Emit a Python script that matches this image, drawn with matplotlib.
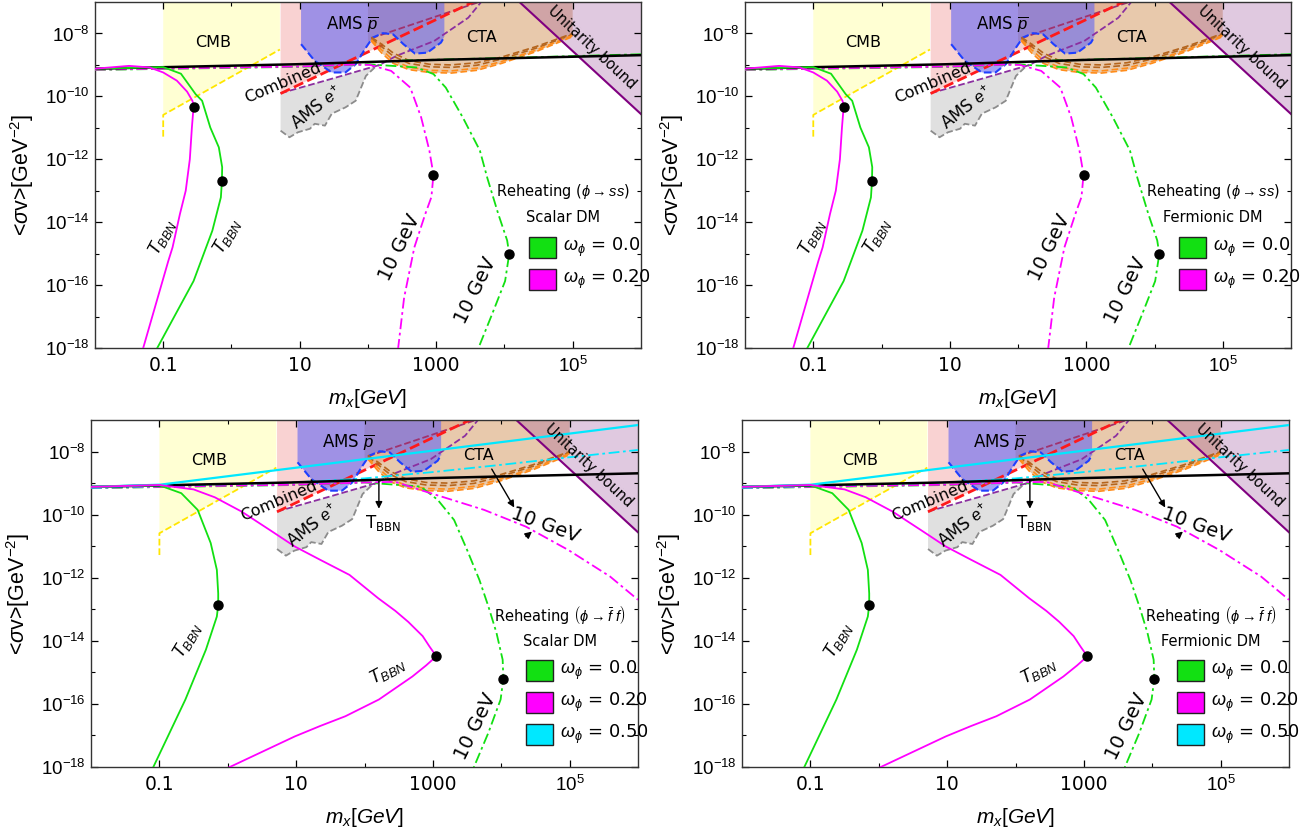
import matplotlib.pyplot as plt
import numpy as np
from matplotlib.patches import Polygon, Rectangle
from matplotlib.ticker import FixedFormatter, FixedLocator, NullFormatter

plt.rcParams["font.family"] = ["DejaVu Sans"]
plt.rcParams["mathtext.fontset"] = "custom"
plt.rcParams["mathtext.rm"] = "Liberation Sans"
plt.rcParams["mathtext.it"] = "Liberation Sans:italic"
plt.rcParams["mathtext.bf"] = "Liberation Sans:bold"

# axis ranges and ticks
XLIM = (1e-2, 1e6)
YLIM = (1e-18, 1e-7)
X_MAJOR = [0.1, 10, 1000, 1e5]
X_LABELS = ["0.1", "10", "1000", "$10^5$"]
X_MINOR = [1, 100, 1e4]
Y_MAJOR = [1e-18, 1e-16, 1e-14, 1e-12, 1e-10, 1e-8]
Y_LABELS = ["$10^{-18}$", "$10^{-16}$", "$10^{-14}$", "$10^{-12}$", "$10^{-10}$", "$10^{-8}$"]
Y_MINOR = [1e-17, 1e-15, 1e-13, 1e-11, 1e-9]

# all curves stored as log10(m_x / GeV), log10(<sigma v> / GeV^-2)
RELIC_LOGM = [-2.0, 0.93, 3.0, 6.0]
RELIC_LOGSV = [-9.12, -8.98, -8.84, -8.69]

UNITARITY_LOGM = [4.22, 6.0]
UNITARITY_LOGSV = [-7.0, -10.56]

CMB_LOGM = [-1.0, -1.0, 0.71]
CMB_LOGSV = [-11.28, -10.59, -8.51]

COMBINED_LOGM = [0.72, 3.57]
COMBINED_LOGSV = [-9.91, -6.97]

AMS_E_UPPER_LOGM = [0.72, 1.47, 2.17, 2.42, 2.97, 3.47, 3.67]
AMS_E_UPPER_LOGSV = [-9.90, -9.44, -9.00, -8.71, -8.24, -7.50, -6.97]
AMS_E_LOWER_LOGM = [0.72, 0.85, 0.975, 1.15, 1.22, 1.37, 1.47, 1.67, 1.82, 1.90, 1.97, 2.10, 2.17]
AMS_E_LOWER_LOGSV = [-11.09, -11.30, -11.14, -11.03, -10.87, -10.93, -10.55, -10.35, -10.14,
                     -9.72, -9.35, -9.08, -9.00]
MAROON_LOGM = [2.05, 3.67]
MAROON_LOGSV = [-8.15, -6.97]

AMS_P_LOGM = [1.02, 1.22, 1.47, 1.67, 1.82, 1.97, 2.07, 2.22, 2.37, 2.52, 2.69, 2.87, 3.07, 3.12]
AMS_P_LOGSV = [-8.34, -8.87, -9.24, -9.24, -8.98, -8.45, -8.13, -7.99, -8.03, -8.34, -8.64,
               -8.61, -8.29, -8.10]

CTA_LOGM = [2.05, 2.2, 2.37, 2.6, 2.9, 3.22, 3.6, 3.96, 4.46, 5.0]
CTA_ORANGE_LOW = [-8.24, -8.62, -8.95, -9.15, -9.24, -9.26, -9.17, -8.95, -8.58, -8.10]
CTA_ORANGE_HIGH = [-8.20, -8.52, -8.85, -9.07, -9.17, -9.19, -9.10, -8.89, -8.53, -8.06]
CTA_BROWN_LOW = [-8.16, -8.42, -8.72, -8.95, -9.06, -9.08, -9.01, -8.81, -8.47, -8.03]
CTA_BROWN_HIGH = [-8.12, -8.34, -8.62, -8.86, -8.98, -9.00, -8.93, -8.75, -8.42, -8.00]

# phi -> s s reheating (top row)
SS_GREEN_LOGM = [-2.0, -1.0, -0.74, -0.525, -0.43, -0.31, -0.185, -0.136, -0.14, -0.155, -0.28,
                 -0.555, -1.10]
SS_GREEN_LOGSV = [-9.12, -9.07, -9.28, -9.93, -10.14, -10.99, -11.62, -12.25, -12.70, -13.21,
                  -14.27, -15.87, -18.05]
SS_GREEN_DOT = (-0.14, -12.70)
SS_MAGENTA_LOGM = [-2.0, -1.5, -1.2, -1.0, -0.8, -0.65, -0.57, -0.555, -0.58, -0.61, -0.67,
                   -0.755, -0.863, -0.925, -1.30]
SS_MAGENTA_LOGSV = [-9.12, -9.03, -9.08, -9.24, -9.50, -9.85, -10.15, -10.33, -11.0, -12.0,
                    -13.0, -13.74, -14.80, -15.23, -18.05]
SS_MAGENTA_DOT = (-0.555, -10.33)
SS_GREEN10_LOGM = [-2.0, 1.0, 2.0, 2.71, 2.96, 3.14, 3.39, 3.64, 3.75, 3.91, 4.04, 4.07, 4.01,
                   3.82, 3.61]
SS_GREEN10_LOGSV = [-9.16, -9.06, -8.98, -9.08, -9.29, -9.72, -10.67, -11.72, -12.60, -13.74,
                    -14.58, -15.01, -15.87, -16.92, -18.05]
SS_GREEN10_DOT = (4.07, -15.01)
SS_GREEN10_UPPER_LOGM = [2.5, 4.0, 6.0]
SS_GREEN10_UPPER_LOGSV = [-8.86, -8.78, -8.66]
SS_MAGENTA10_LOGM = [-2.0, 1.0, 1.8, 2.03, 2.34, 2.62, 2.78, 2.90, 2.96, 2.93, 2.84, 2.68,
                     2.53, 2.44]
SS_MAGENTA10_LOGSV = [-9.15, -9.05, -8.99, -9.00, -9.19, -9.72, -10.67, -11.72, -12.49, -13.2,
                      -13.74, -14.80, -16.40, -18.05]
SS_MAGENTA10_DOT = (2.96, -12.49)

# phi -> f fbar reheating (bottom row)
FF_GREEN_LOGM = [-2.0, -1.0, -0.68, -0.44, -0.25, -0.16, -0.14, -0.14, -0.16, -0.32, -0.62, -1.10]
FF_GREEN_LOGSV = [-9.12, -9.07, -9.32, -9.85, -10.90, -11.75, -12.50, -12.86, -13.23, -14.28,
                  -15.86, -18.05]
FF_GREEN_DOT = (-0.14, -12.86)
FF_MAGENTA_LOGM = [-2.0, -1.0, -0.5, -0.19, 0.2, 0.61, 0.98, 1.35, 1.78, 2.20, 2.45, 2.64,
                   2.85, 2.95, 3.05, 2.90, 2.70, 2.21, 1.72, 1.35, 0.98, -0.02]
FF_MAGENTA_LOGSV = [-9.12, -9.06, -9.20, -9.45, -9.90, -10.48, -11.01, -11.43, -11.91, -12.65,
                    -13.05, -13.40, -13.85, -14.18, -14.49, -14.78, -15.13, -15.86, -16.39,
                    -16.70, -17.03, -18.05]
FF_MAGENTA_DOT = (3.05, -14.49)
FF_GREEN10_LOGM = [-2.0, 1.0, 2.0, 2.82, 3.07, 3.31, 3.50, 3.68, 3.81, 3.93, 4.02, 4.03, 3.99,
                   3.81, 3.59]
FF_GREEN10_LOGSV = [-9.16, -9.06, -8.98, -9.11, -9.53, -10.17, -11.12, -12.07, -12.90, -13.75,
                    -14.60, -15.20, -15.86, -16.92, -18.05]
FF_GREEN10_DOT = (4.03, -15.20)
FF_MAGENTA10_LOGM = [-2.0, 1.0, 2.0, 2.45, 2.82, 3.13, 3.75, 4.36, 4.98, 5.59, 6.0]
FF_MAGENTA10_LOGSV = [-9.15, -9.05, -8.98, -8.96, -9.22, -9.43, -9.85, -10.38, -11.12, -11.96,
                      -12.70]
FF_CYAN_LOGM = [-2.0, -0.99, 6.0]
FF_CYAN_LOGSV = [-9.12, -9.05, -7.16]
FF_CYAN10_LOGM = [-2.0, 0.98, 2.0, 3.0, 4.0, 5.0, 6.0]
FF_CYAN10_LOGSV = [-9.15, -8.98, -8.85, -8.65, -8.42, -8.18, -7.95]

GREEN = "#12E012"
MAGENTA = "#FF00FF"
CYAN = "#00E8FF"
DASHDOT = (0, (6, 2, 1.5, 2))

PANELS = [
    # left, bottom, width, height, row, dm label
    (0.0726, 0.5827, 0.4174, 0.4149, "ss", "Scalar DM"),
    (0.5696, 0.5827, 0.4174, 0.4149, "ss", "Fermionic DM"),
    (0.0696, 0.0803, 0.4182, 0.4161, "ff", "Scalar DM"),
    (0.5673, 0.0803, 0.4182, 0.4161, "ff", "Fermionic DM"),
]


def lg(values):
    return 10.0 ** np.asarray(values, dtype=float)


def pts(logm, logsv):
    return list(zip(lg(logm), lg(logsv)))


def fill(ax, verts, color, alpha):
    ax.add_patch(Polygon(verts, closed=True, facecolor=color, alpha=alpha,
                         edgecolor="none", zorder=1))


def setup_axes(ax):
    ax.set_xscale("log")
    ax.set_yscale("log")
    ax.set_xlim(*XLIM)
    ax.set_ylim(*YLIM)
    ax.xaxis.set_major_locator(FixedLocator(X_MAJOR))
    ax.xaxis.set_major_formatter(FixedFormatter(X_LABELS))
    ax.xaxis.set_minor_locator(FixedLocator(X_MINOR))
    ax.xaxis.set_minor_formatter(NullFormatter())
    ax.yaxis.set_major_locator(FixedLocator(Y_MAJOR))
    ax.yaxis.set_major_formatter(FixedFormatter(Y_LABELS))
    ax.yaxis.set_minor_locator(FixedLocator(Y_MINOR))
    ax.yaxis.set_minor_formatter(NullFormatter())
    ax.tick_params(which="both", direction="in", top=True, right=True, labelsize=13.5)
    ax.tick_params(axis="x", which="both", pad=6)
    ax.tick_params(axis="y", which="both", pad=4)
    ax.tick_params(which="major", length=5, width=0.9)
    ax.tick_params(which="minor", length=3, width=0.8)
    for spine in ax.spines.values():
        spine.set_linewidth(1.0)
        spine.set_color("#333333")
    ax.set_xlabel(r"$m_x[GeV]$", fontsize=15, family="DejaVu Sans")
    ax.xaxis.set_label_coords(0.5, -0.113)
    ax.set_ylabel(r"<$\sigma$v>[GeV$^{-2}$]", fontsize=15.5, family="Liberation Sans")
    ax.yaxis.set_label_coords(-0.108, 0.5)


def draw_bounds(ax):
    ymax = YLIM[1]
    # CMB
    cmb = pts(CMB_LOGM, CMB_LOGSV)
    fill(ax, cmb[1:] + [(cmb[-1][0], ymax), (cmb[1][0], ymax)], "#FFFF9E", 0.45)
    ax.plot(*zip(*cmb), color="#FFE600", ls="--", lw=1.3, zorder=2)
    # combined
    comb = pts(COMBINED_LOGM, COMBINED_LOGSV)
    fill(ax, [comb[0], comb[1], (comb[0][0], ymax)], "#F08080", 0.35)
    # AMS e+
    upper = pts(AMS_E_UPPER_LOGM, AMS_E_UPPER_LOGSV)
    lower = pts(AMS_E_LOWER_LOGM, AMS_E_LOWER_LOGSV)
    fill(ax, upper[:3] + lower[::-1], "#A8A8A8", 0.35)
    # CTA
    cta = pts(CTA_LOGM, CTA_ORANGE_LOW)
    fill(ax, cta + [(cta[-1][0], ymax), (100.0, ymax), (100.0, cta[0][1])], "#D2955A", 0.5)
    # AMS pbar
    pbar = pts(AMS_P_LOGM, AMS_P_LOGSV)
    fill(ax, pbar + [(pbar[-1][0], ymax), (pbar[0][0], ymax)], "#6466F3", 0.6)
    # unitarity
    uni = pts(UNITARITY_LOGM, UNITARITY_LOGSV)
    fill(ax, [uni[0], (XLIM[1], ymax), uni[1]], "#9B4F9B", 0.3)

    ax.plot(*zip(*lower), color="#8C8C8C", ls="--", lw=1.3, zorder=2)
    ax.plot(*zip(*upper), color="#8B2FA0", ls="--", lw=1.3, zorder=2)
    ax.plot(lg(MAROON_LOGM), lg(MAROON_LOGSV), color="#A0326E", ls="--", lw=1.3, zorder=2)
    ax.plot(*zip(*comb), color="#FF1A1A", ls="--", lw=2.0, zorder=2)
    ax.plot(*zip(*pbar), color="#1F3FFF", ls="--", lw=1.5, zorder=2)
    m = lg(CTA_LOGM)
    for vals, col in [(CTA_BROWN_HIGH, "#B5651D"), (CTA_BROWN_LOW, "#B5651D"),
                      (CTA_ORANGE_HIGH, "#FF8C1A"), (CTA_ORANGE_LOW, "#FF8C1A")]:
        ax.plot(m, lg(vals), color=col, ls=(0, (4, 2)), lw=1.2, zorder=2)
    ax.plot(*zip(*uni), color="#800080", lw=1.5, zorder=2)

    def put(text, lm, ls, rot=0, size=11.5):
        ax.text(10 ** lm, 10 ** ls, text, rotation=rot, fontsize=size, ha="center",
                va="center", rotation_mode="anchor", zorder=6)

    put("CMB", -0.27, -8.29)
    put("CTA", 3.67, -8.13)
    put(r"AMS $\overline{p}$", 1.77, -7.71, size=12)
    put("Combined", 0.75, -9.56, rot=23)
    put(r"AMS $e^{+}$", 1.25, -10.35, rot=38, size=12)
    put("Unitarity bound", 5.28, -8.45, rot=-43, size=10.5)


def curve(ax, logm, logsv, color, dashed=False, lw=1.3):
    ax.plot(lg(logm), lg(logsv), color=color, lw=lw, ls=DASHDOT if dashed else "-", zorder=4)


def dot(ax, xy):
    ax.plot(10 ** xy[0], 10 ** xy[1], "o", color="black", ms=6.5, zorder=5)


def label(ax, text, lm, ls, rot, size=13):
    ax.text(10 ** lm, 10 ** ls, text, rotation=rot, fontsize=size, ha="center", va="center",
            rotation_mode="anchor", zorder=6)


def legend(ax, header, dm_label, entries, y0):
    ax.text(0.857, y0, header, transform=ax.transAxes, fontsize=10.5, ha="center", va="center")
    ax.text(0.857, y0 - 0.075, dm_label, transform=ax.transAxes, fontsize=10.5,
            ha="center", va="center")
    for i, (color, text) in enumerate(entries):
        yc = y0 - 0.16 - 0.092 * i
        ax.add_patch(Rectangle((0.795, yc - 0.03), 0.05, 0.06, transform=ax.transAxes,
                               facecolor=color, edgecolor="#222222", lw=1.0, zorder=6))
        ax.text(0.858, yc, text, transform=ax.transAxes, fontsize=13, ha="left",
                va="center", zorder=6)


def draw_ss(ax, dm_label):
    curve(ax, SS_GREEN10_UPPER_LOGM, SS_GREEN10_UPPER_LOGSV, GREEN, dashed=True)
    curve(ax, SS_GREEN10_LOGM, SS_GREEN10_LOGSV, GREEN, dashed=True)
    curve(ax, SS_MAGENTA10_LOGM, SS_MAGENTA10_LOGSV, MAGENTA, dashed=True)
    curve(ax, RELIC_LOGM, RELIC_LOGSV, "black", lw=1.8)
    curve(ax, SS_GREEN_LOGM, SS_GREEN_LOGSV, GREEN)
    curve(ax, SS_MAGENTA_LOGM, SS_MAGENTA_LOGSV, MAGENTA)
    for xy in (SS_GREEN_DOT, SS_MAGENTA_DOT, SS_GREEN10_DOT, SS_MAGENTA10_DOT):
        dot(ax, xy)
    label(ax, r"$T_{BBN}$", -1.02, -14.48, 62)
    label(ax, r"$T_{BBN}$", -0.06, -14.43, 60)
    label(ax, "10 GeV", 2.47, -14.8, 64, size=14)
    label(ax, "10 GeV", 3.58, -16.18, 64, size=14)
    legend(ax, r"Reheating ($\phi\rightarrow ss$)", dm_label,
           [(GREEN, r"$\omega_\phi$ = 0.0"), (MAGENTA, r"$\omega_\phi$ = 0.20")], 0.451)


def draw_ff(ax, dm_label):
    curve(ax, FF_GREEN10_LOGM, FF_GREEN10_LOGSV, GREEN, dashed=True)
    curve(ax, FF_MAGENTA10_LOGM, FF_MAGENTA10_LOGSV, MAGENTA, dashed=True)
    curve(ax, FF_CYAN10_LOGM, FF_CYAN10_LOGSV, CYAN, dashed=True)
    curve(ax, RELIC_LOGM, RELIC_LOGSV, "black", lw=1.8)
    curve(ax, FF_CYAN_LOGM, FF_CYAN_LOGSV, CYAN, lw=1.6)
    curve(ax, FF_GREEN_LOGM, FF_GREEN_LOGSV, GREEN)
    curve(ax, FF_MAGENTA_LOGM, FF_MAGENTA_LOGSV, MAGENTA)
    for xy in (FF_GREEN_DOT, FF_MAGENTA_DOT, FF_GREEN10_DOT):
        dot(ax, xy)
    label(ax, r"$T_{BBN}$", -0.59, -13.97, 59)
    label(ax, r"$T_{BBN}$", 2.33, -14.97, 28)
    label(ax, "10 GeV", 3.62, -16.71, 64, size=14)
    arrow = dict(arrowstyle="-|>", color="black", lw=1.0, mutation_scale=10)
    ax.annotate("", xy=(10 ** 2.21, 10 ** -9.90), xytext=(10 ** 2.21, 10 ** -8.80),
                arrowprops=arrow, zorder=6)
    label(ax, r"$\mathregular{T_{BBN}}$", 2.27, -10.25, 0, size=12)
    ax.annotate("", xy=(10 ** 4.21, 10 ** -9.85), xytext=(10 ** 3.84, 10 ** -8.48),
                arrowprops=arrow, zorder=6)
    ax.annotate("", xy=(10 ** 4.48, 10 ** -10.48), xytext=(10 ** 4.33, 10 ** -10.75),
                arrowprops=arrow, zorder=6)
    label(ax, "10 GeV", 4.64, -10.33, -20, size=14)
    legend(ax, r"Reheating $\left(\phi\rightarrow\bar{f}\ f\right)$", dm_label,
           [(GREEN, r"$\omega_\phi$ = 0.0"), (MAGENTA, r"$\omega_\phi$ = 0.20"),
            (CYAN, r"$\omega_\phi$ = 0.50")], 0.438)


fig = plt.figure(figsize=(13.08, 8.34), dpi=100)
for left, bottom, width, height, row, dm_label in PANELS:
    ax = fig.add_axes([left, bottom, width, height])
    setup_axes(ax)
    draw_bounds(ax)
    if row == "ss":
        draw_ss(ax, dm_label)
    else:
        draw_ff(ax, dm_label)

fig.savefig("out.png", dpi=100)
